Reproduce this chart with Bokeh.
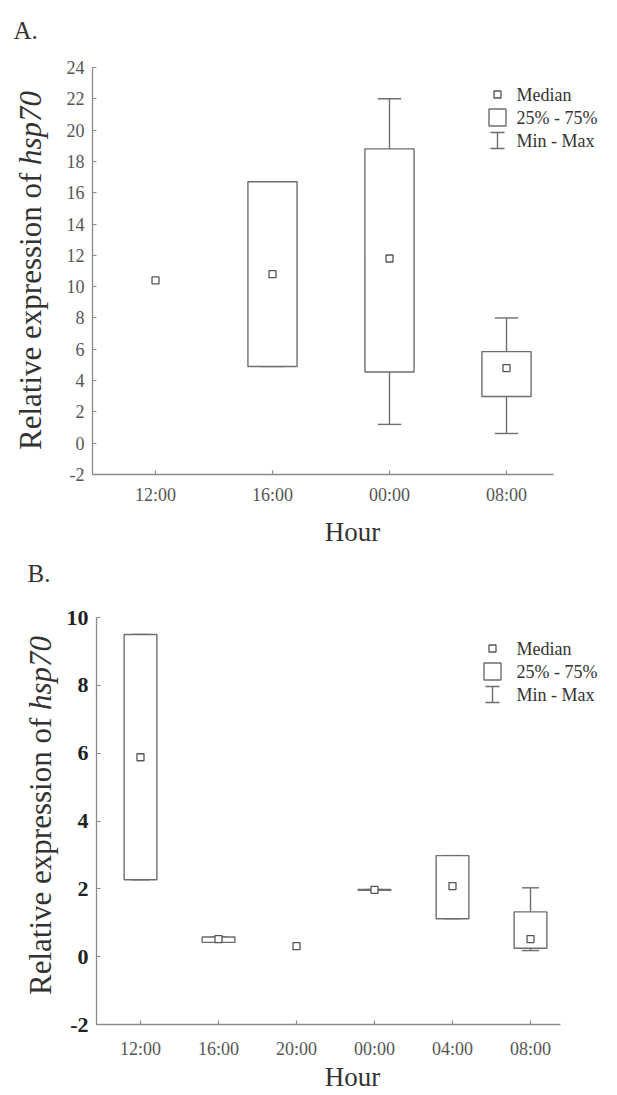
import math
from bokeh.plotting import figure
from bokeh.models import FixedTicker, Label, Range1d
from bokeh.layouts import column
from bokeh.embed import file_html
from bokeh.resources import INLINE

NAN = float("nan")

# ---------------- data: panel A ----------------
hours_a = ["12:00", "16:00", "00:00", "08:00"]
median_a = [10.4, 10.8, 11.8, 4.8]
q1_a = [NAN, 4.9, 4.55, 2.98]
q3_a = [NAN, 16.7, 18.8, 5.85]
min_a = [NAN, 4.9, 1.2, 0.62]
max_a = [NAN, 16.7, 22.0, 8.0]
yticks_a = [-2, 0, 2, 4, 6, 8, 10, 12, 14, 16, 18, 20, 22, 24]

# ---------------- data: panel B ----------------
hours_b = ["12:00", "16:00", "20:00", "00:00", "04:00", "08:00"]
median_b = [5.88, 0.52, 0.31, 1.97, 2.08, 0.52]
q1_b = [2.27, 0.42, NAN, 1.96, 1.12, 0.25]
q3_b = [9.5, 0.58, NAN, 1.98, 2.98, 1.32]
min_b = [2.27, 0.42, NAN, 1.96, 1.12, 0.18]
max_b = [9.5, 0.58, NAN, 1.98, 2.98, 2.03]
yticks_b = [-2, 0, 2, 4, 6, 8, 10]

legend_labels = ["Median", "25% - 75%", "Min - Max"]

SERIF = "Liberation Serif"
LINE = "#6e6e6e"
AXIS = "#8a8a8a"
TXT = "#333333"
W = 615


def lin(p0, v0, p1, v1):
    k = (v1 - v0) / (p1 - p0)
    return lambda px: v0 + (px - p0) * k


def make_panel(letter, hours, med, q1, q3, mn, mx, yticks, *, H,
               cat_px, axis_px, ytick_px, box_w, cap_w, ytick_style, xlab_standoff,
               ylab_xy, ylab_size, hour_xy, letter_xy, leg_x, leg_y, leg_text_x):
    n = len(hours)
    fx = lin(cat_px[0], 1, cat_px[1], n)                      # page px -> x data
    fy = lin(ytick_px[0], yticks[-1], ytick_px[1], yticks[0])  # local px (down) -> y data
    p = figure(width=W, height=H, output_backend="svg", toolbar_location=None,
               x_range=Range1d(fx(0), fx(W)), y_range=Range1d(fy(H), fy(0)),
               min_border=0, min_border_left=0, min_border_right=0,
               min_border_top=0, min_border_bottom=0,
               background_fill_color="white", border_fill_color="white")
    p.outline_line_color = None
    p.grid.visible = False

    xs = list(range(1, n + 1))
    # whiskers
    p.segment(x0=xs, y0=q3, x1=xs, y1=mx, line_color=LINE, line_width=1.4)
    p.segment(x0=xs, y0=q1, x1=xs, y1=mn, line_color=LINE, line_width=1.4)
    p.segment(x0=[x - cap_w / 2 for x in xs], y0=mx, x1=[x + cap_w / 2 for x in xs], y1=mx,
              line_color=LINE, line_width=1.4)
    p.segment(x0=[x - cap_w / 2 for x in xs], y0=mn, x1=[x + cap_w / 2 for x in xs], y1=mn,
              line_color=LINE, line_width=1.4)
    # boxes
    p.quad(left=[x - box_w / 2 for x in xs], right=[x + box_w / 2 for x in xs],
           bottom=q1, top=q3, fill_color="white", line_color=LINE, line_width=1.4)
    # medians
    p.scatter(x=xs, y=med, marker="square", size=7, fill_color="white",
              line_color="#555555", line_width=1.3)

    # axes pinned at the chart's own origin
    x_lo, x_hi = fx(axis_px[0]), fx(axis_px[1])
    p.xaxis.fixed_location = yticks[0]
    p.xaxis.bounds = (x_lo, x_hi)
    p.yaxis.fixed_location = x_lo
    p.yaxis.bounds = (yticks[0], yticks[-1])
    for ax in (p.xaxis[0], p.yaxis[0]):
        ax.axis_line_color = AXIS
        ax.axis_line_width = 1.3
        ax.major_tick_line_color = AXIS
        ax.major_tick_line_width = 1.2
        ax.major_tick_in = 4
        ax.major_tick_out = 0
        ax.minor_tick_line_color = None
        ax.major_label_text_font = SERIF
    p.xaxis.ticker = FixedTicker(ticks=xs)
    p.xaxis.major_label_overrides = {x: h for x, h in zip(xs, hours)}
    p.xaxis.major_label_text_font_size = "18px"
    p.xaxis.major_label_text_color = "#555555"
    p.xaxis.major_label_standoff = xlab_standoff
    p.yaxis.ticker = FixedTicker(ticks=yticks)
    p.yaxis.major_label_overrides = {t: str(t) for t in yticks}
    p.yaxis.major_label_standoff = 8
    p.yaxis.major_label_text_font_size = ytick_style[0]
    p.yaxis.major_label_text_font_style = ytick_style[1]
    p.yaxis.major_label_text_color = ytick_style[2]

    def lab(x, y, text, size, **kw):
        p.add_layout(Label(x=x, y=H - y, x_units="screen", y_units="screen", text=text,
                           text_font=SERIF, text_font_size=f"{size}px", text_color=TXT, **kw))

    lab(letter_xy[0], letter_xy[1], letter, 25, text_align="left", text_baseline="middle")
    lab(hour_xy[0], hour_xy[1], "Hour", 27, text_align="center", text_baseline="middle")
    junction = ylab_xy[1] - ylab_size * (9.193 - 2.389) / 2
    lab(ylab_xy[0], junction, "Relative expression of ", ylab_size, angle=math.pi / 2,
        text_align="right", text_baseline="middle")
    lab(ylab_xy[0], junction, "hsp70", ylab_size, angle=math.pi / 2, text_font_style="italic",
        text_align="left", text_baseline="middle")

    # legend
    rows = [leg_y, leg_y + 23, leg_y + 46]
    for t, ry in zip(legend_labels, rows):
        lab(leg_text_x, ry, t, 18, text_align="left", text_baseline="middle")
    p.scatter(x=[fx(leg_x)], y=[fy(rows[0])], marker="square", size=7, fill_color="white",
              line_color="#555555", line_width=1.3)
    p.quad(left=[fx(leg_x - 8.5)], right=[fx(leg_x + 8.5)], bottom=[fy(rows[1] + 8.5)],
           top=[fy(rows[1] - 8.5)], fill_color="white", line_color=LINE, line_width=1.4)
    p.segment(x0=[fx(leg_x), fx(leg_x - 7), fx(leg_x - 7)],
              y0=[fy(rows[2] - 8), fy(rows[2] - 8), fy(rows[2] + 8)],
              x1=[fx(leg_x), fx(leg_x + 7), fx(leg_x + 7)],
              y1=[fy(rows[2] + 8), fy(rows[2] - 8), fy(rows[2] + 8)],
              line_color=LINE, line_width=1.4)
    return p


pa = make_panel("A.", hours_a, median_a, q1_a, q3_a, min_a, max_a, yticks_a, H=553,
                cat_px=(155, 506), axis_px=(92, 553), ytick_px=(67, 474),
                box_w=0.42, cap_w=0.2, ytick_style=("18px", "normal", "#555555"),
                xlab_standoff=10, ylab_xy=(30, 270), ylab_size=31, hour_xy=(352, 531),
                letter_xy=(13, 30), leg_x=497, leg_y=94, leg_text_x=516)

pb = make_panel("B.", hours_b, median_b, q1_b, q3_b, min_b, max_b, yticks_b, H=540,
                cat_px=(140, 530), axis_px=(96, 560), ytick_px=(64, 471),
                box_w=0.42, cap_w=0.22, ytick_style=("22px", "bold", "#222222"),
                xlab_standoff=14, ylab_xy=(40, 262), ylab_size=31, hour_xy=(352, 523),
                letter_xy=(27, 20), leg_x=492, leg_y=95, leg_text_x=516)

layout = column(pa, pb, spacing=0)
open("out.html", "w").write(file_html(layout, INLINE))
